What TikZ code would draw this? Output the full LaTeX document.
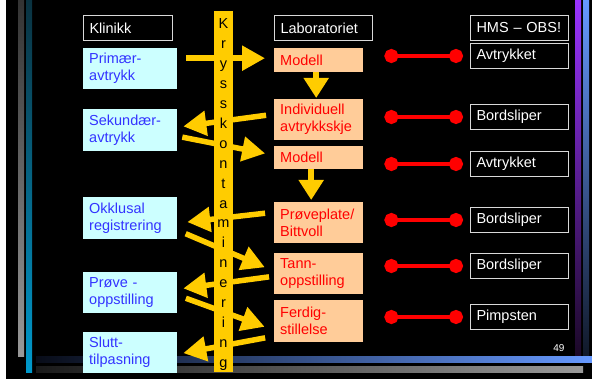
\documentclass[tikz,border=0pt]{standalone}
\usepackage{fontspec}
\setmainfont{Liberation Sans}
\usetikzlibrary{arrows.meta}

\definecolor{clinbg}{HTML}{CCFFFF}
\definecolor{clintx}{HTML}{3333FF}
\definecolor{labbg}{HTML}{FFCC99}
\definecolor{labtx}{HTML}{FF0000}
\definecolor{gold}{HTML}{FFCC00}
\definecolor{linkred}{HTML}{FF0000}
\definecolor{frame}{HTML}{D9D9D9}

\begin{document}
\begin{tikzpicture}[x=1pt,y=-1pt,
  every node/.style={font=\fontsize{14.5}{17}\selectfont},
  cell/.style={anchor=north west, inner xsep=6pt, inner ysep=0pt, align=left},
  clin/.style={cell, fill=clinbg, text=clintx, text width=82pt},
  lab/.style={cell, fill=labbg, text=labtx, text width=77pt},
  hms/.style={cell, fill=black, draw=frame, line width=1pt, text=white, text width=86pt, minimum height=25pt},
  hdr/.style={hms},
  fat/.style={draw=gold, line width=5.5pt, -{Triangle[width=24pt,length=23pt]}},
  down/.style={draw=gold, line width=6pt, -{Triangle[width=24pt,length=20pt]}},
  link/.style={draw=linkred, line width=4pt,
    {Circle[length=14pt]}-{Circle[length=14pt]}, shorten <=21pt, shorten >=7pt},
  kletter/.style={anchor=base, inner sep=0pt, text=black}
]
\useasboundingbox (0,0) rectangle (592,379);

% slide background and frame bars
\fill[white] (0,0) rectangle (592,379);
\fill[black] (6,0) rectangle (592,379);
\shade[top color={rgb,255:red,51;green,51;blue,51}, bottom color={rgb,255:red,153;green,153;blue,153}]
  (18,0) rectangle (24,357);
\shade[top color={rgb,255:red,10;green,50;blue,64}, bottom color={rgb,255:red,0;green,153;blue,204}]
  (26,0) rectangle (32,373);
\shade[top color={rgb,255:red,153;green,51;blue,255}, bottom color={rgb,255:red,26;green,8;blue,38}]
  (575,0) rectangle (581,357);
\shade[top color={rgb,255:red,102;green,153;blue,255}, bottom color={rgb,255:red,16;green,24;blue,40}]
  (583,0) rectangle (589,357);
\shade[left color={rgb,255:red,8;green,12;blue,24}, right color={rgb,255:red,102;green,153;blue,255}]
  (36,357) rectangle (592,363);
\shade[left color={rgb,255:red,26;green,26;blue,26}, right color={rgb,255:red,153;green,153;blue,153}]
  (36,367) rectangle (583,373);

% column headers
\node[hdr, text width=77pt] (hk) at (83,15) {Klinikk};
\node[hdr] (hl) at (274,15) {Laboratoriet};
\node[hdr] (hh) at (470,15) {HMS -- OBS!};

% clinic steps
\node[clin, minimum height=41pt] (prim)  at (83,48)  {Primær-\\avtrykk};
\node[clin, minimum height=42pt] (sek)   at (83,109) {Sekundær-\\avtrykk};
\node[clin, minimum height=42pt] (okk)   at (83,197) {Okklusal\\registrering};
\node[clin, minimum height=41pt] (prove) at (83,272) {Prøve -\\oppstilling};
\node[clin, minimum height=41pt] (slutt) at (83,332) {Slutt-\\tilpasning};

% laboratory steps
\node[lab, minimum height=24pt] (mod1)   at (274,48)  {Modell};
\node[lab, minimum height=41pt] (indiv)  at (274,99)  {Individuell\\avtrykkskje};
\node[lab, minimum height=23pt] (mod2)   at (274,146) {Modell};
\node[lab, minimum height=41pt] (pplate) at (274,202) {Prøveplate/\\Bittvoll};
\node[lab, minimum height=41pt] (tann)   at (274,253) {Tann-\\oppstilling};
\node[lab, minimum height=42pt] (ferd)   at (274,300) {Ferdig-\\stillelse};

% HMS notes
\node[hms] (avt1)  at (470,43)  {Avtrykket};
\node[hms] (bord1) at (470,104) {Bordsliper};
\node[hms] (avt2)  at (470,151) {Avtrykket};
\node[hms] (bord2) at (470,207) {Bordsliper};
\node[hms] (bord3) at (470,253) {Bordsliper};
\node[hms] (pimp)  at (470,304) {Pimpsten};

% cross-contamination band
\node[fill=gold, minimum width=19pt, minimum height=361pt, inner sep=0pt, anchor=north west]
  (kryss) at (214,11) {};

% flow between clinic and laboratory
\draw[fat, shorten <=9pt, shorten >=9pt]  ([yshift=10.5pt]prim.east) -- ([yshift=2pt]mod1.west);
\draw[fat, shorten <=8pt, shorten >=6pt]  ([yshift=5.5pt]indiv.west) -- ([yshift=3pt]sek.east);
\draw[fat, shorten <=5pt, shorten >=9pt]  ([yshift=-6pt]sek.east) -- ([yshift=2.5pt]mod2.west);
\draw[fat, shorten <=9pt, shorten >=10pt] ([yshift=10.5pt]pplate.west) -- ([yshift=-5pt]okk.east);
\draw[fat, shorten <=9pt, shorten >=10pt] ([yshift=-12pt]okk.east) -- ([yshift=2.5pt]tann.west);
\draw[fat, shorten <=5pt, shorten >=6pt]  ([yshift=-2.5pt]tann.west) -- ([yshift=3.5pt]prove.east);
\draw[fat, shorten <=9pt, shorten >=10pt] ([yshift=-2.5pt]prove.east) -- ([yshift=-9pt]ferd.west);
\draw[fat, shorten <=9pt, shorten >=6pt]  ([yshift=-15pt]ferd.west) -- ([yshift=-1.5pt]slutt.east);

% flow inside the laboratory
\draw[down, shorten >=1pt] ([xshift=-2.5pt]mod1.south) -- ([xshift=-2.5pt]indiv.north);
\draw[down, shorten >=2pt] ([xshift=-7.5pt]mod2.south) -- ([xshift=-7.5pt]pplate.north);

% band lettering
\foreach \c [count=\i from 0] in {K,r,y,s,s,k,o,n,t,a,m,i,n,e,r,i,n,g}
  \node[kletter] (kl\i) at (223.5, 29+19.9*\i) {\c};

% HMS links
\draw[link, yshift=-1.5pt] (mod1.east |- avt1.west) -- (avt1.west);
\draw[link, yshift=-2pt]   (indiv.east |- bord1.west) -- (bord1.west);
\draw[link, yshift=3pt]    (mod2.east |- avt2.west) -- (avt2.west);
\draw[link, yshift=-2pt]   (pplate.east |- bord2.west) -- (bord2.west);
\draw[link, yshift=3pt]    (tann.east |- bord3.west) -- (bord3.west);
\draw[link, yshift=2pt]    (ferd.east |- pimp.west) -- (pimp.west);

% slide number
\node[text=white, font=\fontsize{10}{12}\selectfont, anchor=base east] (num) at (568,352) {49};
\end{tikzpicture}
\end{document}
